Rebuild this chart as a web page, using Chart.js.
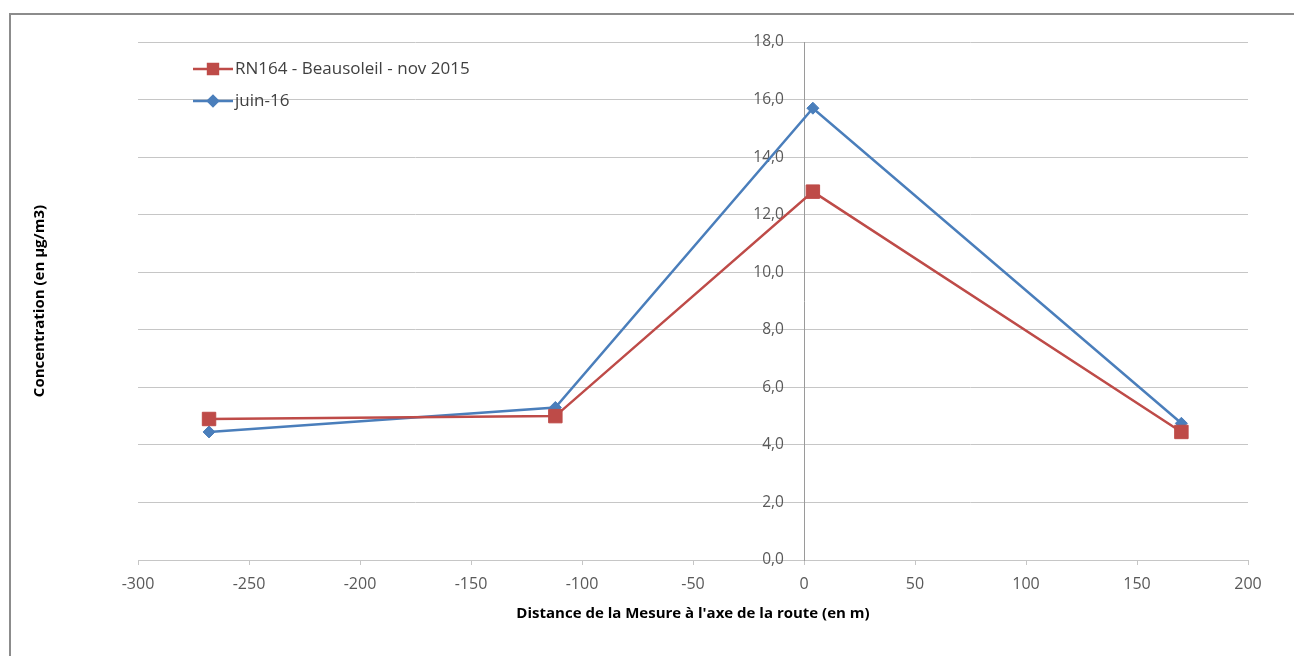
<!DOCTYPE html>
<html>
<head>
<meta charset="utf-8">
<script src="https://cdn.jsdelivr.net/npm/chart.js@4"></script>
<style>
  body { margin: 0; background: #fff; }
  #wrap { position: relative; width: 1294px; height: 656px; }
  #frame { position: absolute; left: 9px; top: 13px; width: 1300px; height: 700px; border-left: 2px solid #8c8c8c; border-top: 2px solid #8c8c8c; box-sizing: border-box; }
  canvas { position: absolute; left: 0; top: 0; }
</style>
</head>
<body>
<div id="wrap">
  <div id="frame"></div>
  <canvas id="chart" width="1294" height="656"></canvas>
</div>
<script>
// distances (m) and concentrations
const distNov = [-268, -112, 4, 170];
const concNov = [4.9, 5.0, 12.8, 4.45];
const distJuin = [-268, -112, 4, 170];
const concJuin = [4.45, 5.3, 15.7, 4.75];

const seriesNames = ["RN164 - Beausoleil - nov 2015", "juin-16"];
const xTitle = "Distance de la Mesure à l'axe de la route (en m)";
const yTitle = "Concentration (en µg/m3)";

const red = "#be4b48";
const blue = "#4a7ebb";
const gridColor = "#c6c6c6";
const labelColor = "#595959";
const fontFamily = "'Open Sans', sans-serif";

function toPoints(xs, ys) {
    return xs.map((x, i) => ({ x: x, y: ys[i] }));
}

// legend drawn inside the plot, top-left
const legendPlugin = {
    id: "cornerLegend",
    afterDraw(chart) {
        let ctx = chart.ctx;
        let items = chart.data.datasets;
        ctx.save();
        items.forEach(function(ds, i) {
            let y = 69 + i * 32;
            ctx.strokeStyle = ds.borderColor;
            ctx.lineWidth = 2.5;
            ctx.beginPath();
            ctx.moveTo(193, y);
            ctx.lineTo(233, y);
            ctx.stroke();
            Chart.helpers.drawPoint(ctx, {
                pointStyle: ds.pointStyle,
                radius: ds.pointStyle === "rect" ? 7 : 5,
                borderWidth: 1
            }, 213, y);
            ctx.fillStyle = ds.backgroundColor;
            ctx.fill();
            ctx.fillStyle = "#404040";
            ctx.font = "17px " + fontFamily;
            ctx.textBaseline = "middle";
            ctx.fillText(ds.label, 235, y);
        });
        ctx.restore();
    }
};

let ctx = document.getElementById("chart").getContext("2d");
let myChart = new Chart(ctx, {
    type: "line",
    data: {
        datasets: [{
            label: seriesNames[0],
            data: toPoints(distNov, concNov),
            borderColor: red,
            backgroundColor: red,
            borderWidth: 2.5,
            pointStyle: "rect",
            pointRadius: 9.5,
            pointBorderWidth: 1,
            pointBorderColor: red,
            tension: 0
        }, {
            label: seriesNames[1],
            data: toPoints(distJuin, concJuin),
            borderColor: blue,
            backgroundColor: blue,
            borderWidth: 2.5,
            pointStyle: "rectRot",
            pointRadius: 6,
            pointBorderWidth: 1,
            pointBorderColor: blue,
            tension: 0
        }]
    },
    plugins: [legendPlugin],
    options: {
        responsive: false,
        animation: false,
        layout: { padding: { left: 0, right: 46, top: 42, bottom: 0 } },
        plugins: {
            legend: { display: false },
            tooltip: { enabled: false }
        },
        scales: {
            x: {
                type: "linear",
                position: "bottom",
                min: -300,
                max: 200,
                afterFit: function(s) { s.height = 96; },
                ticks: {
                    stepSize: 50,
                    color: labelColor,
                    padding: 10,
                    font: { family: fontFamily, size: 16 }
                },
                grid: { drawOnChartArea: false, drawTicks: true, tickLength: 5, color: gridColor },
                border: { color: gridColor },
                title: {
                    display: true,
                    text: xTitle,
                    color: "#000",
                    padding: { top: 0, bottom: 33 },
                    font: { family: fontFamily, size: 15, weight: "bold" }
                }
            },
            y: {
                type: "linear",
                position: { x: 0 },
                min: 0,
                max: 18,
                ticks: {
                    stepSize: 2,
                    color: labelColor,
                    font: { family: fontFamily, size: 15.5 },
                    // trailing spaces keep the labels off the centred axis
                    callback: function(v) { return v.toFixed(1).replace(".", ",") + "     "; }
                },
                grid: { color: gridColor, tickLength: 6 },
                border: { color: "#9a9a9a" }
            },
            yTitle: {
                type: "linear",
                position: "left",
                min: 0,
                max: 18,
                afterFit: function(s) { s.width = 138; },
                ticks: { display: false },
                grid: { display: false },
                border: { display: false },
                title: {
                    display: true,
                    text: yTitle,
                    color: "#000",
                    padding: { top: 31, bottom: 0 },
                    font: { family: fontFamily, size: 15, weight: "bold" }
                }
            }
        }
    }
});
</script>
</body>
</html>
